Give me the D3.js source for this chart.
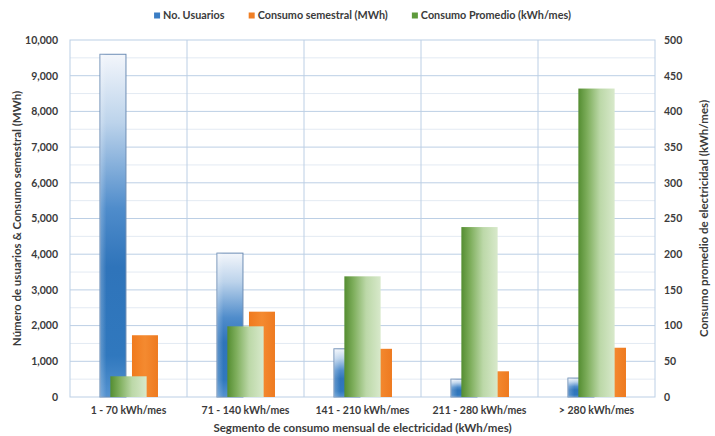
<!DOCTYPE html>
<html>
<head>
<meta charset="utf-8">
<script src="https://cdn.jsdelivr.net/npm/d3@7"></script>
<style>
  html, body { margin: 0; padding: 0; background: #fff; }
  svg { display: block; }
  text { font-family: Lato, "Open Sans", sans-serif; font-weight: bold; fill: #3b3b3b; }
</style>
</head>
<body>
<svg id="chart" width="715" height="436"></svg>
<script>
// Segments of monthly electricity consumption
const categories = ["1 - 70 kWh/mes", "71 - 140 kWh/mes", "141 - 210 kWh/mes", "211 - 280 kWh/mes", "> 280 kWh/mes"];
// Number of users per segment (left axis)
const usuarios = [9600, 4030, 1350, 500, 530];
// Semester consumption in MWh (left axis)
const consumoSemestral = [1730, 2390, 1350, 720, 1380];
// Average consumption in kWh/month (right axis)
const consumoPromedio = [29, 99, 169, 238, 432];

const leftTicks = [0, 1000, 2000, 3000, 4000, 5000, 6000, 7000, 8000, 9000, 10000];
const rightTicks = [0, 50, 100, 150, 200, 250, 300, 350, 400, 450, 500];

const legendItems = [
  { key: "usuarios", label: "No. Usuarios", color: "#3a7dc4" },
  { key: "semestral", label: "Consumo semestral (MWh)", color: "#f07f24" },
  { key: "promedio", label: "Consumo Promedio (kWh/mes)", color: "#5e9a3c" }
];

const svg = d3.select("#chart");
const plot = { left: 70, right: 655, top: 40, bottom: 397 };

const x = d3.scaleBand().domain(categories).range([plot.left, plot.right]).padding(0);
const bw = x.bandwidth();
const xSub = d3.scaleBand().domain(["usuarios", "semestral"])
  .range([bw * 0.256, bw * 0.752]).paddingInner(0.1875).paddingOuter(0);
const greenW = bw * 0.31;

const yL = d3.scaleLinear().domain([0, 10000]).range([plot.bottom, plot.top]);
const yR = d3.scaleLinear().domain([0, 500]).range([plot.bottom, plot.top]);

// Gradients
const defs = svg.append("defs");
const gBlue = defs.append("linearGradient").attr("id", "gBlue")
  .attr("x1", 0).attr("y1", 0).attr("x2", 0).attr("y2", 1);
[[0, "#f3f6fb"], [0.2, "#bcd3eb"], [0.45, "#4f8ccb"], [0.62, "#2f74ba"], [0.88, "#3078be"], [1, "#5593d0"]]
  .forEach(([o, c]) => gBlue.append("stop").attr("offset", o).attr("stop-color", c));
const gBlueH = defs.append("linearGradient").attr("id", "gBlueH")
  .attr("x1", 0).attr("y1", 0).attr("x2", 1).attr("y2", 0);
[[0, "rgba(255,255,255,0.25)"], [0.25, "rgba(255,255,255,0)"], [1, "rgba(255,255,255,0)"]]
  .forEach(([o, c]) => gBlueH.append("stop").attr("offset", o).attr("stop-color", c));
const gGreen = defs.append("linearGradient").attr("id", "gGreen")
  .attr("x1", 0).attr("y1", 0).attr("x2", 1).attr("y2", 0);
[[0, "#548d31"], [0.25, "#7eae5c"], [0.6, "#bcd8a8"], [1, "#d8e9cb"]]
  .forEach(([o, c]) => gGreen.append("stop").attr("offset", o).attr("stop-color", c));
const gOrange = defs.append("linearGradient").attr("id", "gOrange")
  .attr("x1", 0).attr("y1", 0).attr("x2", 1).attr("y2", 0);
[[0, "#f07a1e"], [0.5, "#f48a30"], [1, "#ee7a20"]]
  .forEach(([o, c]) => gOrange.append("stop").attr("offset", o).attr("stop-color", c));

// Gridlines: minor every 500, major every 1000
const minor = d3.range(500, 10000, 1000);
svg.append("g").selectAll("line").data(minor).join("line")
  .attr("x1", plot.left).attr("x2", plot.right)
  .attr("y1", d => yL(d)).attr("y2", d => yL(d))
  .attr("stroke", "#e3eaf3").attr("stroke-width", 1);
svg.append("g").selectAll("line").data(leftTicks.slice(1, -1)).join("line")
  .attr("x1", plot.left).attr("x2", plot.right)
  .attr("y1", d => yL(d)).attr("y2", d => yL(d))
  .attr("stroke", "#bccfe5").attr("stroke-width", 1);
// Vertical category separators
svg.append("g").selectAll("line").data(categories.slice(1)).join("line")
  .attr("x1", d => x(d)).attr("x2", d => x(d))
  .attr("y1", plot.top).attr("y2", plot.bottom)
  .attr("stroke", "#bccfe5").attr("stroke-width", 1);
// Plot border
svg.append("rect").attr("x", plot.left).attr("y", plot.top)
  .attr("width", plot.right - plot.left).attr("height", plot.bottom - plot.top)
  .attr("fill", "none").attr("stroke", "#bccfe5").attr("stroke-width", 1);

// Primary series bars
const blueG = svg.append("g");
blueG.selectAll("rect.b").data(usuarios).join("rect").attr("class", "b")
  .attr("x", (d, i) => x(categories[i]) + xSub("usuarios"))
  .attr("width", xSub.bandwidth())
  .attr("y", d => yL(d)).attr("height", d => plot.bottom - yL(d))
  .attr("fill", "url(#gBlue)").attr("stroke", "#6d8db5").attr("stroke-width", 1);
blueG.selectAll("rect.bh").data(usuarios).join("rect").attr("class", "bh")
  .attr("x", (d, i) => x(categories[i]) + xSub("usuarios"))
  .attr("width", xSub.bandwidth())
  .attr("y", d => yL(d)).attr("height", d => plot.bottom - yL(d))
  .attr("fill", "url(#gBlueH)");
svg.append("g").selectAll("rect").data(consumoSemestral).join("rect")
  .attr("x", (d, i) => x(categories[i]) + xSub("semestral"))
  .attr("width", xSub.bandwidth())
  .attr("y", d => yL(d)).attr("height", d => plot.bottom - yL(d))
  .attr("fill", "url(#gOrange)");

// Secondary series bars (drawn in front)
svg.append("g").selectAll("rect").data(consumoPromedio).join("rect")
  .attr("x", (d, i) => x(categories[i]) + bw / 2 - greenW / 2)
  .attr("width", greenW)
  .attr("y", d => yR(d)).attr("height", d => plot.bottom - yR(d))
  .attr("fill", "url(#gGreen)");

// Axes
const fmt = d3.format(",");
const axL = svg.append("g").attr("transform", `translate(${plot.left},0)`)
  .call(d3.axisLeft(yL).tickValues(leftTicks).tickFormat(fmt).tickSize(0).tickPadding(12));
const axR = svg.append("g").attr("transform", `translate(${plot.right},0)`)
  .call(d3.axisRight(yR).tickValues(rightTicks).tickSize(0).tickPadding(9));
const axB = svg.append("g").attr("transform", `translate(0,${plot.bottom})`)
  .call(d3.axisBottom(x).tickSize(0).tickPadding(10));
[axL, axR, axB].forEach(a => {
  a.select(".domain").remove();
  a.selectAll("text").style("font-size", "10.5px").attr("fill", "#3b3b3b")
    .style("font-family", "Lato, 'Open Sans', sans-serif").style("font-weight", "bold");
});

// Axis titles
svg.append("text").attr("x", (plot.left + plot.right) / 2).attr("y", 432)
  .attr("text-anchor", "middle").style("font-size", "11.5px")
  .text("Segmento de consumo mensual de electricidad (kWh/mes)");
svg.append("text")
  .attr("transform", `translate(21,${(plot.top + plot.bottom) / 2}) rotate(-90)`)
  .attr("text-anchor", "middle").style("font-size", "11.5px")
  .text("Número de usuarios  & Consumo semestral (MWh)");
svg.append("text")
  .attr("transform", `translate(708,${(plot.top + plot.bottom) / 2}) rotate(-90)`)
  .attr("text-anchor", "middle").style("font-size", "11.5px")
  .text("Consumo promedio de electricidad (kWh/mes)");

// Legend
const legend = svg.append("g");
let lx = 0;
const gap = 24;
const items = legend.selectAll("g").data(legendItems).join("g");
items.append("rect").attr("width", 6).attr("height", 6).attr("y", -6.5)
  .attr("fill", d => d.color);
items.append("text").attr("x", 9).attr("y", 0).style("font-size", "10.8px").text(d => d.label);
items.each(function () {
  const w = this.getBBox().width;
  d3.select(this).attr("transform", `translate(${lx},0)`);
  lx += w + gap;
});
lx -= gap;
legend.attr("transform", `translate(${(plot.left + plot.right) / 2 - lx / 2},19)`);
</script>
</body>
</html>
